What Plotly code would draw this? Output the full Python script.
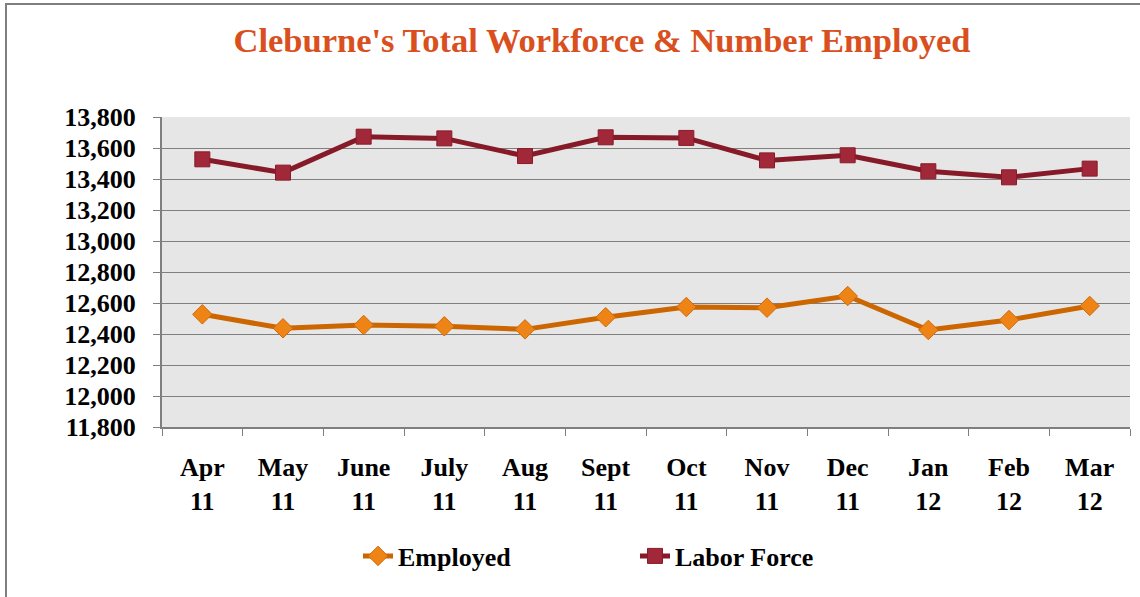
import plotly.graph_objects as go

months = ["Apr<br>11", "May<br>11", "June<br>11", "July<br>11", "Aug<br>11", "Sept<br>11",
          "Oct<br>11", "Nov<br>11", "Dec<br>11", "Jan<br>12", "Feb<br>12", "Mar<br>12"]
employed = [12527, 12437, 12458, 12450, 12430, 12508, 12574, 12570, 12645, 12426, 12490, 12581]
labor_force = [13527, 13441, 13673, 13662, 13548, 13669, 13665, 13520, 13553, 13450, 13411, 13467]
y_ticks = list(range(11800, 13801, 200))

FONT = "Liberation Serif"

fig = go.Figure()
fig.add_trace(go.Scatter(
    x=months, y=employed, name="Employed", mode="lines+markers",
    line=dict(color="#cc6600", width=5),
    marker=dict(symbol="diamond", size=15, color="#ee8416", line=dict(color="#d06a0c", width=1)),
))
fig.add_trace(go.Scatter(
    x=months, y=labor_force, name="Labor Force", mode="lines+markers",
    line=dict(color="#861a28", width=5),
    marker=dict(symbol="square", size=15, color="#a02838", line=dict(color="#8a1a2a", width=1)),
))

W, H = 1140, 597
L, R, T, B = 162, 10, 117, 170
pw, ph = W - L - R, H - T - B

def px_x(p):
    return (p - L) / pw

def px_y(p):
    return (H - B - p) / ph

fig.update_layout(
    width=W, height=H,
    margin=dict(l=L, r=R, t=T, b=B),
    paper_bgcolor="white",
    plot_bgcolor="#e6e6e6",
    font=dict(family=FONT, color="black"),
    title=dict(
        text="Cleburne's Total Workforce & Number Employed",
        x=602 / W, xanchor="center", xref="container",
        y=1 - 40 / H, yanchor="middle", yref="container",
        font=dict(family=FONT, size=34.5, color="#d9501e", weight="bold"),
    ),
    xaxis=dict(
        type="category",
        range=[-0.5, 11.5],
        showgrid=False,
        showline=True, linecolor="#7f7f7f", linewidth=2,
        ticks="outside", tickson="boundaries", ticklen=7, tickcolor="#7f7f7f", tickwidth=1,
        tickfont=dict(family=FONT, size=26, color="black", weight="bold"),
        ticklabelstandoff=16,
    ),
    yaxis=dict(
        range=[11800, 13800],
        tickvals=y_ticks,
        ticktext=[f"{v:,}" for v in y_ticks],
        showgrid=True, gridcolor="#7f7f7f", gridwidth=1,
        showline=True, linecolor="#7f7f7f", linewidth=2,
        ticks="outside", ticklen=7, tickcolor="#7f7f7f",
        tickfont=dict(family=FONT, size=26, color="black", weight="bold"),
        ticklabelstandoff=12,
        zeroline=False,
    ),
    legend=dict(
        orientation="h",
        xref="container", yref="container",
        x=358 / W, xanchor="left",
        y=1 - 556 / H, yanchor="middle",
        font=dict(family=FONT, size=26, color="black", weight="bold"),
        entrywidth=232, entrywidthmode="pixels",
        bgcolor="rgba(0,0,0,0)",
    ),
    showlegend=True,
    shapes=[dict(
        type="rect", xref="paper", yref="paper",
        x0=px_x(6), x1=px_x(1150), y0=px_y(610), y1=px_y(4),
        line=dict(color="#7f7f7f", width=2), fillcolor="rgba(0,0,0,0)", layer="above",
    )],
)

fig.write_html("out.html", config={"displayModeBar": False},
               post_script="document.body.style.margin='0px';")
